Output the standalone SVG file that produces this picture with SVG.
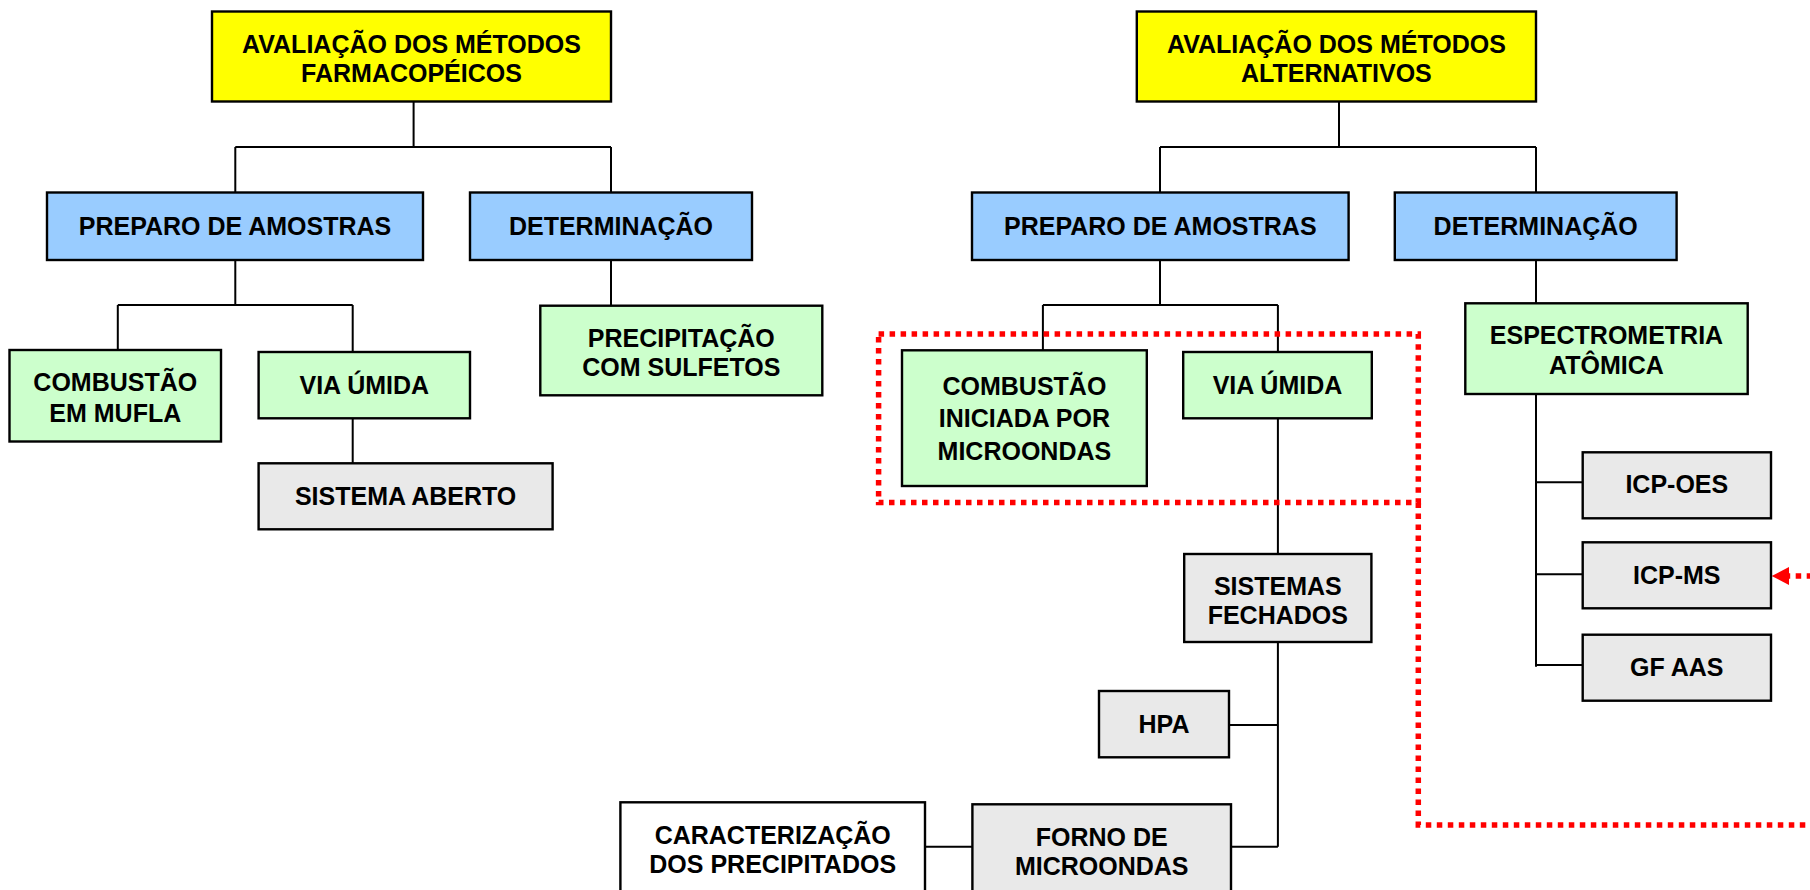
<svg xmlns="http://www.w3.org/2000/svg" width="1810" height="890" viewBox="0 0 1810 890">
<style>
.b{stroke:#000;stroke-width:2.4}
.y{fill:#ffff00}.bl{fill:#99ccff}.g{fill:#ccffcc}.gr{fill:#e9e9e9}.w{fill:#ffffff}
text{font-family:"Liberation Sans",Arial,sans-serif;font-weight:bold;font-size:25px;fill:#000;text-anchor:middle}
.c{fill:none;stroke:#000;stroke-width:2}
.r{fill:none;stroke:#ff0000;stroke-width:5.5;stroke-dasharray:5.5 5.5}
</style>
<rect width="1810" height="890" fill="#fff"/>
<g id="connectors">
<path class="c" d="M413.6,101.5V147M235.3,147H611M235.3,147V192.5M611,147V192.5M235.3,260V305M117.8,305H352.7M117.8,305V350M352.7,305V352M352.7,418.3V463.3M611,260V305.7"/>
<path class="c" d="M1339,101.5V147M1160,147H1536M1160,147V192.5M1536,147V192.5M1160,260V305M1042.9,305H1277.9M1042.9,305V350.3M1277.9,305V352M1277.9,418.3V554M1277.9,642V846.7M1229,725H1277.9M1231,846.7H1277.9M925,846.7H972.4M1536,260V303.3M1536,394V666.7M1536,482.3H1582.7M1536,574.3H1582.7M1536,665H1582.7"/>
</g>
<g id="highlight">
<rect class="r" x="878.6" y="334" width="539.7" height="168.5"/>
<path class="r" d="M1418.3,502.5V825H1830V576H1788"/>
<polygon points="1771.7,576 1789,567 1789,585" fill="#ff0000"/>
</g>
<g id="n1"><rect class="b y" x="212" y="11.5" width="399" height="90"/><text x="411.5" y="52.7">AVALIAÇÃO DOS MÉTODOS</text><text x="411.5" y="82.2">FARMACOPÉICOS</text></g>
<g id="n2"><rect class="b bl" x="47" y="192.5" width="376" height="67.5"/><text x="235" y="234.5">PREPARO DE AMOSTRAS</text></g>
<g id="n3"><rect class="b bl" x="470" y="192.5" width="282" height="67.5"/><text x="611" y="234.5">DETERMINAÇÃO</text></g>
<g id="n4"><rect class="b g" x="9.5" y="350" width="211.5" height="91.5"/><text x="115.3" y="390.7">COMBUSTÃO</text><text x="115.3" y="421.7">EM MUFLA</text></g>
<g id="n5"><rect class="b g" x="258.6" y="352" width="211.4" height="66.3"/><text x="364.3" y="394">VIA ÚMIDA</text></g>
<g id="n6"><rect class="b gr" x="258.6" y="463.3" width="294" height="66"/><text x="405.6" y="505">SISTEMA ABERTO</text></g>
<g id="n7"><rect class="b g" x="540.3" y="305.7" width="282" height="89.6"/><text x="681.3" y="346.7">PRECIPITAÇÃO</text><text x="681.3" y="376">COM SULFETOS</text></g>
<g id="n8"><rect class="b y" x="1136.8" y="11.5" width="399.2" height="90"/><text x="1336.4" y="52.7">AVALIAÇÃO DOS MÉTODOS</text><text x="1336.4" y="81.7">ALTERNATIVOS</text></g>
<g id="n9"><rect class="b bl" x="972" y="192.5" width="376.6" height="67.5"/><text x="1160.3" y="234.5">PREPARO DE AMOSTRAS</text></g>
<g id="n10"><rect class="b bl" x="1394.8" y="192.5" width="281.8" height="67.5"/><text x="1535.7" y="234.5">DETERMINAÇÃO</text></g>
<g id="n11"><rect class="b g" x="902" y="350.3" width="244.8" height="135.7"/><text x="1024.4" y="395">COMBUSTÃO</text><text x="1024.4" y="427">INICIADA POR</text><text x="1024.4" y="459.5">MICROONDAS</text></g>
<g id="n12"><rect class="b g" x="1183.2" y="352" width="188.6" height="66.3"/><text x="1277.5" y="394">VIA ÚMIDA</text></g>
<g id="n13"><rect class="b gr" x="1184.2" y="554" width="187.2" height="88"/><text x="1277.8" y="595">SISTEMAS</text><text x="1277.8" y="624">FECHADOS</text></g>
<g id="n14"><rect class="b gr" x="1099" y="691" width="130" height="66.3"/><text x="1164" y="732.7">HPA</text></g>
<g id="n15"><rect class="b gr" x="972.4" y="804.3" width="258.6" height="100"/><text x="1101.7" y="846">FORNO DE</text><text x="1101.7" y="875">MICROONDAS</text></g>
<g id="n16"><rect class="b w" x="620.4" y="802.3" width="304.6" height="100"/><text x="772.7" y="844">CARACTERIZAÇÃO</text><text x="772.7" y="873.3">DOS PRECIPITADOS</text></g>
<g id="n17"><rect class="b g" x="1465.3" y="303.3" width="282.4" height="90.7"/><text x="1606.5" y="344.3">ESPECTROMETRIA</text><text x="1606.5" y="374.3">ATÔMICA</text></g>
<g id="n18"><rect class="b gr" x="1582.7" y="452.3" width="188.3" height="66"/><text x="1676.8" y="493.3">ICP-OES</text></g>
<g id="n19"><rect class="b gr" x="1582.7" y="542.3" width="188.3" height="66"/><text x="1676.8" y="583.5">ICP-MS</text></g>
<g id="n20"><rect class="b gr" x="1582.7" y="634.7" width="188.3" height="66"/><text x="1676.8" y="676">GF AAS</text></g>
</svg>
